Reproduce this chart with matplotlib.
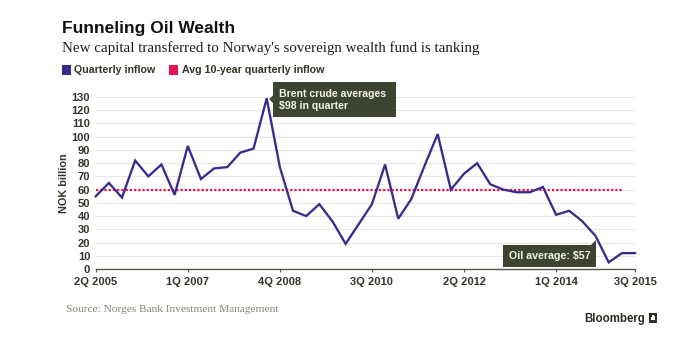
import matplotlib
matplotlib.use('Agg')
import matplotlib.pyplot as plt
import matplotlib.transforms as mtransforms
from matplotlib.patches import Rectangle, Polygon

# data: quarterly inflow to the fund, NOK billion, 2Q 2005 .. 3Q 2015
quarters = []
for yr in range(2005, 2016):
    for q in range(1, 5):
        if (yr, q) >= (2005, 2) and (yr, q) <= (2015, 3):
            quarters.append('{0}Q {1}'.format(q, yr))

inflow = [55, 65, 54, 82, 70, 79, 56, 93, 68, 76,
          77, 88, 91, 129, 77, 44, 40, 49, 36, 19,
          34, 49, 79, 38, 53, 78, 102, 60, 72, 80,
          64, 60, 58, 58, 62, 41, 44, 36, 25, 5,
          12, 12]

avg_value = 60
avg_span = ['2Q 2005', '2Q 2015']

tick_labels = ['2Q 2005', '1Q 2007', '4Q 2008', '3Q 2010', '2Q 2012', '1Q 2014', '3Q 2015']
yticks = list(range(0, 131, 10))

brent_quarter = '3Q 2008'
brent_text = 'Brent crude averages\n$98 in quarter'
oil_quarter = '4Q 2014'
oil_text = 'Oil average: $57'

# colours
purple = '#3b2a8e'
red = '#e4144e'
dark = '#34352a'
boxcol = '#3d4531'
grid = '#e6e6e2'
gray = '#85857a'

W, H = 692, 338
fig = plt.figure(figsize=(W/100., H/100.), dpi=100)
fig.patch.set_facecolor('white')

def fx(x):
    return x/float(W)
def fy(y):
    return 1 - y/float(H)

sans = ['Liberation Sans', 'DejaVu Sans']
serif = ['Liberation Serif', 'DejaVu Serif']

# header
fig.text(fx(62), fy(33.3), 'Funneling Oil Wealth', family=sans, weight='bold',
         fontsize=12.5, color='#111111', va='baseline')
fig.text(fx(62), fy(51.7), "New capital transferred to Norway's sovereign wealth fund is tanking",
         family=serif, fontsize=10.8, color='#1d1d1d', va='baseline')

# legend
fig.patches.append(Rectangle((fx(62), fy(75)), fx(9), 10/float(H), transform=fig.transFigure,
                             facecolor=purple, edgecolor='none'))
fig.text(fx(74.5), fy(73.3), 'Quarterly inflow', family=sans, weight='bold',
         fontsize=7.7, color=dark, va='baseline')
fig.patches.append(Rectangle((fx(169), fy(75)), fx(9), 10/float(H), transform=fig.transFigure,
                             facecolor=red, edgecolor='none'))
fig.text(fx(182.5), fy(73.3), 'Avg 10-year quarterly inflow', family=sans, weight='bold',
         fontsize=7.7, color=dark, va='baseline')

# main axes
ax = fig.add_axes([fx(95.7), fy(269), fx(635-95.7), 172/float(H)])
xs = list(range(len(quarters)))
ax.plot(xs, inflow, color=purple, linewidth=1.65, solid_joinstyle='miter', clip_on=False, zorder=3)
a0, a1 = quarters.index(avg_span[0]), quarters.index(avg_span[1])
ax.plot([a0, a1], [avg_value, avg_value], color=red, linewidth=1.6,
        linestyle=(0, (1, 0.9)), dash_capstyle='butt', zorder=2)

ax.set_xlim(0, len(quarters)-1)
ax.set_ylim(0, 130)
ax.set_yticks(yticks)
ax.set_xticks([quarters.index(t) for t in tick_labels])
ax.set_xticklabels(tick_labels)
ax.yaxis.grid(True, color=grid, linewidth=0.8)
ax.set_axisbelow(True)
for s in ['top', 'right', 'left']:
    ax.spines[s].set_visible(False)
ax.spines['bottom'].set_color('#55564a')
ax.spines['bottom'].set_linewidth(1.0)
ax.tick_params(axis='y', length=0, pad=4, labelsize=8, labelcolor=dark)
ax.tick_params(axis='x', length=2.5, width=0.8, color='#55564a', pad=3.5,
               labelsize=8, labelcolor=dark)
for lab in ax.get_xticklabels() + ax.get_yticklabels():
    lab.set_family(sans)
    lab.set_weight('bold')
ax.set_ylabel('NOK billion', family=sans, weight='bold', fontsize=7.8, color=dark, labelpad=1.5)

# callouts, drawn in pixel offsets from the data point
def offs(i):
    return fig.dpi_scale_trans + mtransforms.ScaledTranslation(i, inflow[i], ax.transData)

i = quarters.index(brent_quarter)
t = offs(i)
ax.add_patch(Rectangle((0.06, -0.19), 1.23, 0.35, transform=t, facecolor=boxcol,
                       edgecolor='none', clip_on=False, zorder=4))
ax.add_patch(Polygon([(0.025, -0.007), (0.065, 0.03), (0.065, -0.05)], closed=True, transform=t,
                     facecolor=boxcol, edgecolor='none', clip_on=False, zorder=4))
ax.text(0.126, -0.015, brent_text, transform=t, family=sans, weight='bold', fontsize=7.6,
        color='#f2f1e8', va='center', ha='left', linespacing=1.3, zorder=5)

i = quarters.index(oil_quarter)
t = offs(i)
ax.add_patch(Rectangle((-0.923, -0.307), 0.923, 0.217, transform=t, facecolor=boxcol,
                       edgecolor='none', clip_on=False, zorder=4))
ax.add_patch(Polygon([(-0.045, -0.095), (0.0, -0.095), (0.0, -0.045)], closed=True, transform=t,
                     facecolor=boxcol, edgecolor='none', clip_on=False, zorder=4))
ax.text(-0.87, -0.2, oil_text, transform=t, family=sans, weight='bold', fontsize=7.7,
        color='#f2f1e8', va='center', ha='left', zorder=5)

# footer
fig.text(fx(66), fy(311.7), 'Source: Norges Bank Investment Management', family=serif,
         fontsize=8.2, color=gray, va='baseline')
fig.text(fx(584), fy(322), 'Bloomberg', family=sans, weight='bold', fontsize=8.3,
         color='#2a2a22', va='baseline')
fig.patches.append(Rectangle((fx(648.7), fy(322.5)), fx(8), 9.5/float(H), transform=fig.transFigure,
                             facecolor='#2f3028', edgecolor='none'))
for bx, bh in [(650.6, 3), (652.4, 5), (654.2, 4)]:
    fig.patches.append(Rectangle((fx(bx), fy(320)), fx(1.1), bh/float(H), transform=fig.transFigure,
                                 facecolor='white', edgecolor='none'))

fig.savefig('out.png', dpi=100)
